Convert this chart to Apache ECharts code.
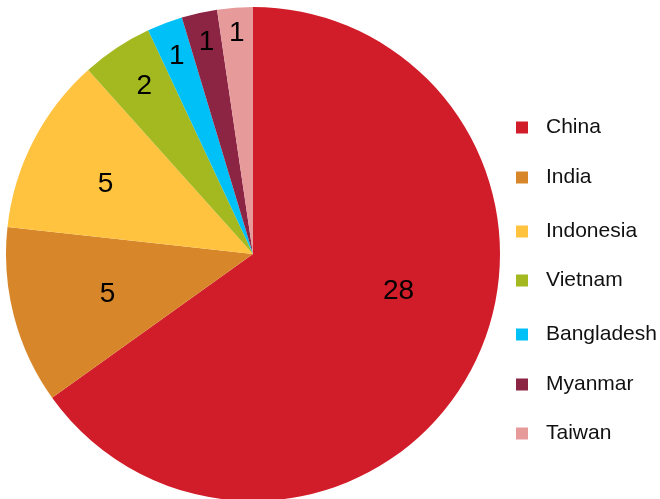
<!DOCTYPE html>
<html>
<head>
<meta charset="utf-8">
<script src="https://cdn.jsdelivr.net/npm/echarts@6/dist/echarts.min.js"></script>
<style>
  html, body { margin: 0; padding: 0; background: #fff; }
  #main { width: 660px; height: 499px; }
</style>
</head>
<body>
<div id="main"></div>
<script>
// data
const countries = ['China', 'India', 'Indonesia', 'Vietnam', 'Bangladesh', 'Myanmar', 'Taiwan'];
const counts = [28, 5, 5, 2, 1, 1, 1];
const colors = ['#D11D29', '#D8862A', '#FFC33F', '#A4B820', '#00C0F8', '#8C2444', '#E69A9A'];

// label nudges (excel style best fit placement)
const labelDx = [33, -23, -35, -39, -31, -19, -7];
const labelDy = [-21, 8, -12, -62, -80, -88, -95];
// legend rows
const legendTops = [117, 167, 221, 270, 324, 374, 423];

const chart = echarts.init(document.getElementById('main'));

let pieData = [];
for (let i = 0; i < countries.length; i++) {
    pieData.push({ name: countries[i], value: counts[i], itemStyle: { color: colors[i] } });
}

let legends = [];
for (let i = 0; i < countries.length; i++) {
    legends.push({
        data: [countries[i]],
        left: 516,
        top: legendTops[i],
        padding: 0,
        icon: 'rect',
        itemWidth: 12,
        itemHeight: 12,
        selectedMode: false,
        textStyle: {
            fontFamily: 'Liberation Sans, Arial, sans-serif',
            fontSize: 21,
            color: '#111',
            padding: [0, 0, 0, 13]
        }
    });
}

const option = {
    backgroundColor: '#ffffff',
    animation: false,
    legend: legends,
    series: [{
        type: 'pie',
        center: [253, 254],
        radius: [0, 247],
        startAngle: 90,
        clockwise: true,
        avoidLabelOverlap: false,
        itemStyle: { borderWidth: 0 },
        emphasis: { disabled: true },
        label: {
            show: true,
            position: 'inside',
            formatter: '{c}',
            fontFamily: 'Liberation Sans, Arial, sans-serif',
            fontSize: 28,
            color: '#000'
        },
        labelLine: { show: false },
        labelLayout: function (params) {
            return { dx: labelDx[params.dataIndex], dy: labelDy[params.dataIndex] };
        },
        data: pieData
    }]
};

chart.setOption(option);
</script>
</body>
</html>
